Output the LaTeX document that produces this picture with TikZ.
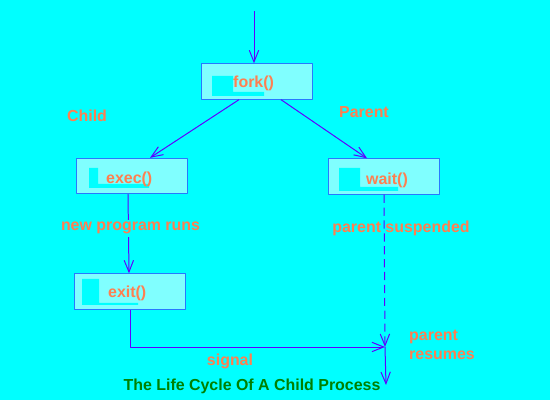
\documentclass[tikz,border=0pt]{standalone}
\usepackage{fontspec}
\setmainfont{Liberation Sans}
\usetikzlibrary{arrows.meta,calc,positioning}
\definecolor{bgcyan}{RGB}{0,255,255}
\definecolor{boxfill}{RGB}{128,255,255}
\definecolor{boxline}{RGB}{40,120,255}
\definecolor{lineviolet}{RGB}{96,0,255}
\definecolor{labelorange}{RGB}{255,127,80}
\definecolor{titlegreen}{RGB}{0,128,0}

\begin{document}
\begin{tikzpicture}[x=0.03cm,y=-0.03cm,>={Straight Barb[length=10pt,width=8pt]},line join=round,
  font=\fontsize{13.6}{16.2}\selectfont\bfseries,
  procbox/.style={draw=boxline,fill=boxfill,line width=0.85pt,minimum width=3.33cm,minimum height=1.06cm,inner sep=0pt},
  proctext/.style={anchor=base west,inner sep=0pt,labelorange},
  tag/.style={labelorange,inner sep=0pt,anchor=base},
  conn/.style={->,lineviolet,line width=0.85pt}]
  \fill[bgcyan] (0,0) rectangle (550,400);
  \node[procbox] (fork) at (257,81.5){};
  \node[procbox] (exec) at (132,176){};
  \node[procbox] (wait) at (383.5,176.5){};
  \node[procbox] (exit) at (130,291.5){};
  \foreach \xa/\xb/\xc/\ya/\yb/\yc in {212/233/264/76/92/96,89/98/149/168/184/188,
      339/360/398/168/187/191,82/99/138/279/303/305}
    \fill[bgcyan] (\xa,\ya)--(\xb,\ya)--(\xb,\yb)--(\xc,\yb)--(\xc,\yc)--(\xa,\yc)--cycle;
  \node[proctext] (forkT) at (233,88){fork()};
  \node[proctext] (execT) at (106,184){exec()};
  \node[proctext] (waitT) at (366,185){wait()};
  \node[proctext] (exitT) at (108,298){exit()};
  \coordinate (start) at (254,11);
  \coordinate (join) at (385,347);
  \coordinate (stop) at (386,385);
  \draw[conn] (start) -- (start |- fork.north);
  \draw[conn] ($(fork.south)+(-18,0)$) -- ($(exec.north)+(18,0)$);
  \draw[conn] ($(fork.south)+(24,0)$) -- ($(wait.north)+(-16.5,0)$);
  \draw[conn] ($(exec.south)+(-4,0)$) -- ($(exit.north)+(-1,0)$);
  \draw[conn,dash pattern=on 7pt off 4pt] ($(wait.south)+(0.5,0)$) -- (join);
  \draw[conn] (exit.south) |- (join);
  \draw[conn] (join) -- (stop);
  \node[tag] (child) at (87,122){Child};
  \node[tag] (parent) at (364,118){Parent};
  \node[tag,fill=bgcyan,inner sep=2pt] (runs) at (130.5,231){new program runs};
  \node[tag] (suspend) at (401,233){parent suspended};
  \node[tag,anchor=west,align=left] (resume) at (409,345){parent\\resumes};
  \node[tag] (signal) at (230,366){signal};
  \node[tag,titlegreen] (title) at (252,391){The Life Cycle Of A Child Process};
\end{tikzpicture}
\end{document}
